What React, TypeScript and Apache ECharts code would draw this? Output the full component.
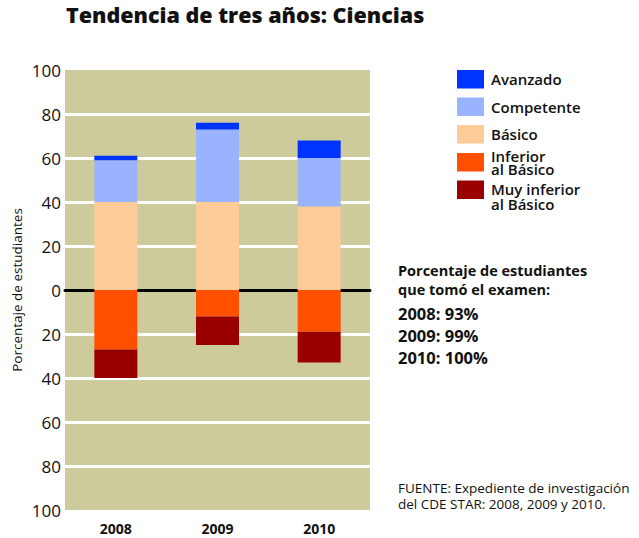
import React, { useEffect, useRef } from 'react';
import * as echarts from 'echarts';

const categories = ['2008', '2009', '2010'];
const avanzado = [2, 3, 8];
const competente = [19, 33, 22];
const basico = [40, 40, 38];
const inferior = [27, 12, 19];
const muyInferior = [13, 13, 14];

const seriesNames = ['Avanzado', 'Competente', 'Básico', 'Inferior al Básico', 'Muy inferior al Básico'];
const legendLabels = ['Avanzado', 'Competente', 'Básico', 'Inferior\nal Básico', 'Muy inferior\nal Básico'];
const colors = ['#0033ff', '#99b3ff', '#ffcc99', '#ff5000', '#990000'];

const titleText = 'Tendencia de tres años: Ciencias';
const yAxisTitle = 'Porcentaje de estudiantes';
const participationTitle = ['Porcentaje de estudiantes', 'que tomó el examen:'];
const participation = ['2008: 93%', '2009: 99%', '2010: 100%'];
const sourceText = 'FUENTE: Expediente de investigación\ndel CDE STAR: 2008, 2009 y 2010.';

const FONT = '"Open Sans", "DejaVu Sans", sans-serif';
const INK = '#111111';
const BG = '#cdcb9c';

export default function App() {
  const ref = useRef<HTMLDivElement>(null);

  useEffect(() => {
    if (!ref.current) return;
    const chart = echarts.init(ref.current, null, { renderer: 'svg' });

    const values = [avanzado, competente, basico, inferior, muyInferior];
    const order = [2, 1, 0, 3, 4];
    const series = order.map((i) => ({
      name: seriesNames[i],
      type: 'bar',
      stack: 'total',
      xAxisIndex: 0,
      yAxisIndex: 0,
      barWidth: 43,
      itemStyle: { color: colors[i] },
      data: values[i].map((v) => (i >= 3 ? -v : v)),
    }));

    const graphics: any[] = [];
    // legend
    const squareTops = [70, 97.5, 125, 153, 180.5];
    const labelCenters = [79, 106.5, 134, 162, 196];
    legendLabels.forEach((t, i) => {
      graphics.push({
        type: 'rect',
        shape: { x: 457, y: squareTops[i], width: 27, height: 18.5 },
        style: { fill: colors[i] },
        silent: true,
      });
      graphics.push({
        type: 'text',
        x: 491,
        y: labelCenters[i],
        style: {
          text: t,
          fill: INK,
          fontFamily: FONT,
          fontSize: 15,
          fontWeight: 600,
          lineHeight: i === 3 ? 13 : 15,
          textAlign: 'left',
          textVerticalAlign: 'middle',
        },
        silent: true,
      });
    });
    const headCenters = [270.5, 289];
    participationTitle.forEach((t, j) => {
      graphics.push({
        type: 'text',
        x: 398,
        y: headCenters[j],
        style: {
          text: t,
          fill: INK,
          font: `700 14.5px ${FONT}`,
          textAlign: 'left',
          textVerticalAlign: 'middle',
        },
        silent: true,
      });
    });
    const partCenters = [313.5, 335.5, 357.5];
    participation.forEach((t, j) => {
      graphics.push({
        type: 'text',
        x: 398,
        y: partCenters[j],
        style: {
          text: t,
          fill: INK,
          font: `700 16.5px ${FONT}`,
          textAlign: 'left',
          textVerticalAlign: 'middle',
        },
        silent: true,
      });
    });
    graphics.push({
      type: 'text',
      x: 398,
      y: 496,
      style: {
        text: sourceText,
        fill: INK,
        fontFamily: FONT,
        fontSize: 13.5,
        fontWeight: 400,
        lineHeight: 16,
        textAlign: 'left',
        textVerticalAlign: 'middle',
      },
      silent: true,
    });

    chart.setOption({
      animation: false,
      textStyle: { fontFamily: FONT },
      title: {
        text: titleText,
        left: 61,
        top: -2,
        textStyle: { fontFamily: FONT, fontSize: 21.5, fontWeight: 800, color: INK },
      },
      grid: {
        left: 65,
        right: 269,
        top: 70,
        bottom: 28,
        show: true,
        backgroundColor: BG,
        borderWidth: 0,
      },
      xAxis: [
        {
          type: 'category',
          data: categories,
          position: 'bottom',
          axisLine: { show: false, onZero: false },
          axisTick: { show: false },
          splitLine: { show: false },
          axisLabel: { fontSize: 14, fontWeight: 700, color: INK, margin: 11, fontFamily: FONT },
        },
        {
          type: 'category',
          data: categories,
          position: 'bottom',
          axisLine: { show: true, onZero: true, lineStyle: { color: '#000', width: 3 } },
          axisTick: { show: false },
          axisLabel: { show: false },
          splitLine: { show: false },
        },
      ],
      yAxis: {
        type: 'value',
        min: -100,
        max: 100,
        interval: 20,
        name: yAxisTitle,
        nameLocation: 'middle',
        nameGap: 41,
        nameTextStyle: { fontSize: 13.5, color: INK, fontFamily: FONT },
        axisLine: { show: false },
        axisTick: { show: false },
        axisLabel: {
          fontSize: 17,
          color: INK,
          margin: 4,
          fontFamily: FONT,
          formatter: (v: number) => String(Math.abs(v)),
        },
        splitLine: {
          show: true,
          showMinLine: false,
          showMaxLine: false,
          lineStyle: { color: '#ffffff', width: 3 },
        },
      },
      series,
      graphic: graphics,
    });

    return () => chart.dispose();
  }, []);

  return (
    <div
      ref={ref}
      style={{ position: 'absolute', left: 0, top: 0, width: 639, height: 538 }}
    />
  );
}
